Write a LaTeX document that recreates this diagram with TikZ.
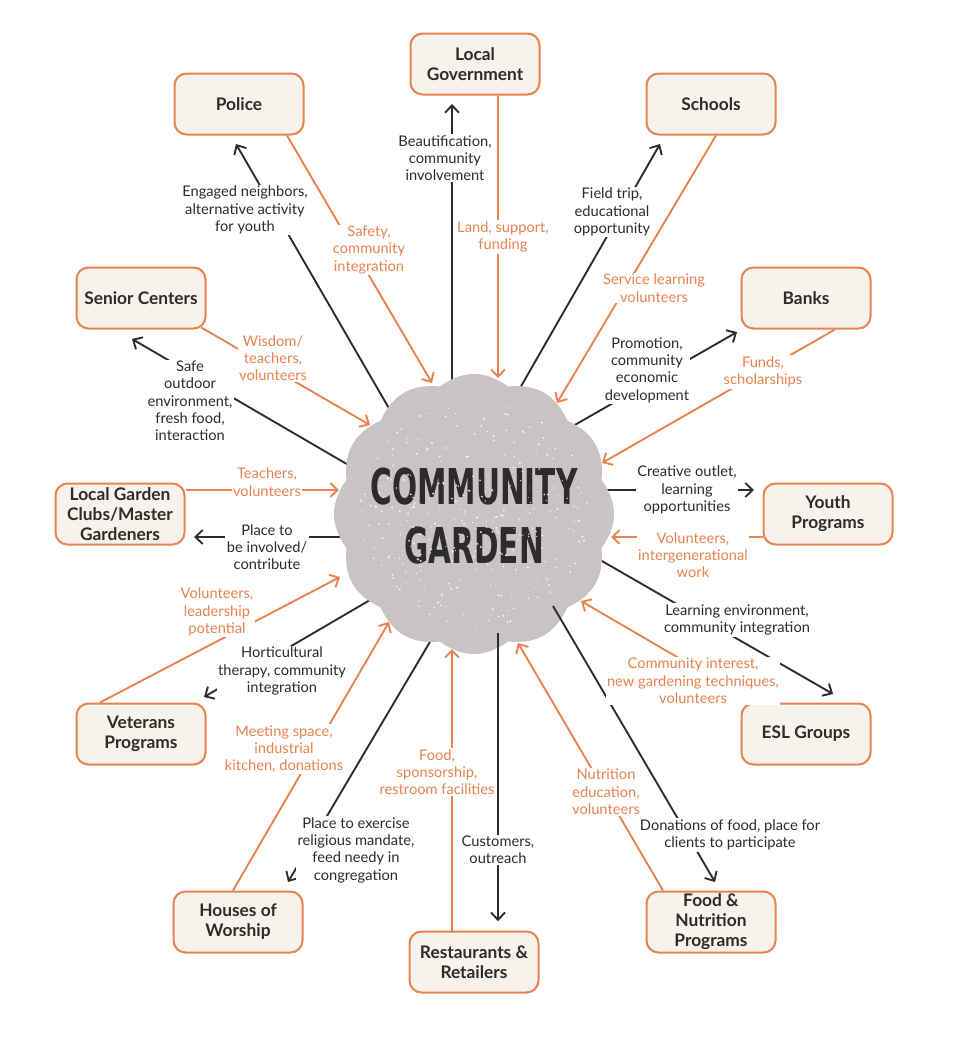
\documentclass[tikz,border=0pt]{standalone}
\usepackage{fontspec}
\usepackage{graphicx}
\setmainfont{Lato}
\newfontfamily\titlefont{DejaVu Sans}
\usetikzlibrary{arrows.meta}

\definecolor{gorange}{HTML}{E8834F}
\definecolor{gcream}{HTML}{F6F2EC}
\definecolor{gcloud}{HTML}{C9C4C4}
\definecolor{gink}{HTML}{2E2B2B}

\tikzset{
  group/.style={draw=gorange, fill=gcream, line width=1.5pt, rounded corners=9pt,
    minimum width=96.75pt, minimum height=45.75pt, align=center, inner sep=1pt,
    text=gink, font=\fontsize{13}{15}\selectfont\bfseries},
  gives/.style={draw=gink, line width=1.4pt, -{Straight Barb[length=5.5pt,width=10.5pt]}},
  gets/.style={gives, draw=gorange},
  givetxt/.style={fill=white, align=center, inner sep=1pt, text=gink,
    font=\fontsize{11}{13}\selectfont},
  gettxt/.style={givetxt, text=gorange},
}

\begin{document}
\begin{tikzpicture}[x=0.75pt,y=-0.75pt]
    \fill[white] (0,0) rectangle (974,1039);

    % the partners
    \node[group] (police) at (239,104) {Police};
    \node[group] (locgov) at (475,64) {Local\\Government};
    \node[group] (schools) at (711,104) {Schools};
    \node[group] (banks) at (806,298) {Banks};
    \node[group] (senior) at (141,298) {Senior Centers};
    \node[group] (clubs) at (120,514) {Local Garden\\Clubs/Master\\Gardeners};
    \node[group] (youth) at (828,514) {Youth\\Programs};
    \node[group] (veterans) at (141,734) {Veterans\\Programs};
    \node[group] (esl) at (806,734) {ESL Groups};
    \node[group] (houses) at (238,922) {Houses of\\Worship};
    \node[group] (rest) at (474,962) {Restaurants \&\\Retailers};
    \node[group] (food) at (711,922) {Food \&\\Nutrition\\Programs};

    % what the garden gives
    \coordinate (cg-pol) at (394,417);
    \coordinate (cg-lg) at (452,418);
    \coordinate (cg-sch) at (512,402);
    \coordinate (cg-bnk) at (566,430);
    \coordinate (cg-yth) at (592,490);
    \coordinate (cg-esl) at (588,553);
    \coordinate (cg-food) at (553,606);
    \coordinate (cg-rest) at (498,633);
    \coordinate (cg-hous) at (437,630);
    \coordinate (cg-vet) at (382,593);
    \coordinate (cg-club) at (365,537);
    \coordinate (cg-sen) at (357,470);

    \draw[gives] (cg-pol) -- ([xshift=-2.25pt,yshift=-6.4pt]police.south);
    \node[givetxt] (t-pol) at (245,210) {Engaged neighbors,\\alternative activity\\for youth};
    \draw[gives] (cg-lg) -- ([xshift=-17.25pt,yshift=-6.4pt]locgov.south);
    \node[givetxt] (t-lg) at (445,158) {Beautification,\\community\\involvement};
    \draw[gives] (cg-sch) -- ([xshift=-38.25pt,yshift=-6.4pt]schools.south);
    \node[givetxt] (t-sch) at (612,212) {Field trip,\\educational\\opportunity};
    \draw[gives] (cg-bnk) -- ([xshift=-2.6pt,yshift=-1.9pt]banks.south west);
    \node[givetxt] (t-bnk) at (647,370) {Promotion,\\community\\economic\\development};
    \draw[gives] (cg-yth) -- ([xshift=-6.4pt,yshift=18pt]youth.west);
    \node[givetxt] (t-yth) at (687,490) {Creative outlet,\\learning\\opportunities};
    \draw[gives] (cg-esl) -- ([xshift=20.25pt,yshift=6.4pt]esl.north);
    \node[givetxt] (t-esl) at (737,620) {Learning environment,\\community integration};
    \draw[gives] (cg-hous) -- ([xshift=37.5pt,yshift=6.4pt]houses.north);
    \node[givetxt] (t-hous) at (356,850) {Place to exercise\\religious mandate,\\feed needy in\\congregation};
    \draw[gives] (cg-vet) -- ([xshift=-1.9pt,yshift=4.1pt]veterans.north east);
    \node[givetxt] (t-vet) at (282,671) {Horticultural\\therapy, community\\integration};
    \draw[gives] (cg-club) -- ([xshift=6.4pt,yshift=-17.25pt]clubs.east);
    \node[givetxt] (t-club) at (267,547) {Place to\\be involved/\\contribute};
    \draw[gives] (cg-sen) -- ([xshift=-6.75pt,yshift=-7.1pt]senior.south);
    \node[givetxt] (t-sen) at (190,401) {Safe\\outdoor\\environment,\\fresh food,\\interaction};

    % the garden
    \coordinate (cg) at (474,514);
    \begin{scope}[shift={(cg)}]
        \fill[gcloud] plot[domain=0:359.5, samples=720] (\x:{132+8*abs(cos(6*\x))}) -- cycle;
        \node[text=gink, align=center, font=\titlefont\bfseries\fontsize{37}{44}\selectfont]
            (title) at (0,2) {\scalebox{0.6}[1]{COMMUNITY}\\\scalebox{0.6}[1]{GARDEN}};
        \pgfmathsetseed{42}
        \foreach \i in {1,...,340}{
            \pgfmathsetmacro\a{360*rnd}
            \pgfmathsetmacro\r{115*sqrt(rnd)}
            \pgfmathsetmacro\s{0.4+0.8*rnd}
            \fill[white, opacity=0.85] (\a:\r) circle (\s);
        }
    \end{scope}

    % what the garden gets
    \draw[gives] (cg-food) -- ([xshift=3pt,yshift=6.4pt]food.north);
    \node[givetxt] (t-food) at (730,835) {Donations of food, place for\\clients to participate};

    \coordinate (in-pol) at (432,383);
    \coordinate (in-lg) at (498,378);
    \coordinate (in-sch) at (557,403);
    \coordinate (in-bnk) at (602,463);
    \coordinate (in-yth) at (611,537);
    \coordinate (in-esl) at (581,601);
    \coordinate (in-food) at (518,643);
    \coordinate (in-rest) at (452,649);
    \coordinate (in-hous) at (389,622);
    \coordinate (in-vet) at (340,577);
    \coordinate (in-club) at (339,490);
    \coordinate (in-sen) at (370,425);

    \draw[gets] ([xshift=36pt]police.south) -- (in-pol);
    \node[gettxt] (u-pol) at (369,250) {Safety,\\community\\integration};
    \draw[gets] ([xshift=17.25pt]locgov.south) -- (in-lg);
    \node[gettxt] (u-lg) at (503,237) {Land, support,\\funding};
    \draw[gets] ([xshift=3.75pt]schools.south) -- (in-sch);
    \node[gettxt] (u-sch) at (654,288) {Service learning\\volunteers};
    \draw[gets] ([xshift=21.75pt]banks.south) -- (in-bnk);
    \node[gettxt] (u-bnk) at (763,372) {Funds,\\scholarships};
    \draw[gets] ([yshift=-17.25pt]youth.west) -- (in-yth);
    \node[gettxt] (u-yth) at (693,555) {Volunteers,\\intergenerational\\work};
    \draw[gets] ([xshift=-38.25pt]esl.north) -- (in-esl);
    \node[gettxt] (u-esl) at (693,681) {Community interest,\\new gardening techniques,\\volunteers};
    \draw[gets] ([xshift=-36pt]food.north) -- (in-food);
    \node[gettxt] (u-food) at (606,792) {Nutrition\\education,\\volunteers};
    \draw[gets] ([xshift=-16.5pt]rest.north) -- (in-rest);
    \node[gettxt] (u-rest) at (437,772) {Food,\\sponsorship,\\restroom facilities};
    \draw[gets] ([xshift=-3.75pt]houses.north) -- (in-hous);
    \node[gettxt] (u-hous) at (284,749) {Meeting space,\\industrial\\kitchen, donations};
    \draw[gets] ([xshift=-30.75pt]veterans.north) -- (in-vet);
    \node[gettxt] (u-vet) at (217,612) {Volunteers,\\leadership\\potential};
    \draw[gets] ([yshift=18pt]clubs.east) -- (in-club);
    \node[gettxt] (u-club) at (267,482) {Teachers,\\volunteers};
    \draw[gets] ([xshift=-4pt,yshift=1.5pt]senior.south east) -- (in-sen);
    \node[gettxt] (u-sen) at (273,358) {Wisdom/\\teachers,\\volunteers};

    \draw[gives] (cg-rest) -- ([xshift=18pt,yshift=7pt]rest.north);
    \node[givetxt] (t-rest) at (498,850) {Customers,\\outreach};
\end{tikzpicture}
\end{document}
